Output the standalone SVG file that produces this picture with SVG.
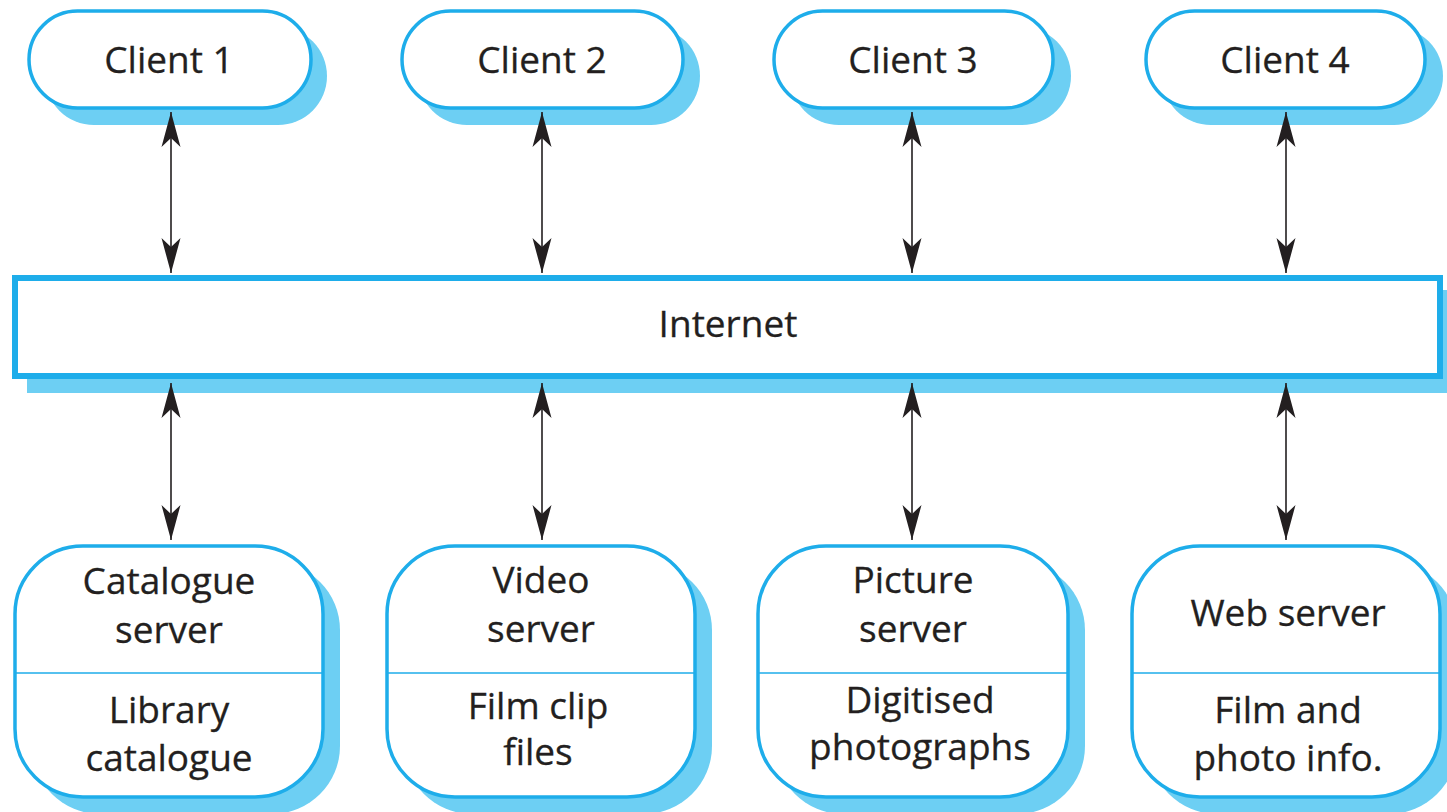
<svg xmlns="http://www.w3.org/2000/svg" width="1447" height="812" viewBox="0 0 1447 812">
<defs>
<style>
.shadow{fill:#6DCFF3;stroke:none}
.node{fill:#fff;stroke:#1EADEA;stroke-width:3.5}
.net{fill:#fff;stroke:#1EADEA;stroke-width:6}
.div{stroke:#1EADEA;stroke-width:1.5}
.lbl{font-family:"Open Sans","Noto Sans",sans-serif;font-size:37px;fill:#231F20;stroke:#231F20;stroke-width:0.3;text-anchor:middle}
.conn{stroke:#231F20;stroke-width:1.6;fill:none;marker-start:url(#ah);marker-end:url(#ah)}
</style>
<marker id="ah" markerUnits="userSpaceOnUse" viewBox="-36 -10 38 20" refX="0" refY="0" markerWidth="38" markerHeight="20" orient="auto-start-reverse">
<path d="M0,0 L-35,-9.5 L-26,0 L-35,9.5 Z" fill="#231F20"/>
</marker>
</defs>
<rect width="1447" height="812" fill="#fff"/>

<g id="client1">
<rect class="shadow" x="45" y="27" width="282" height="98" rx="49"/>
<rect class="node" x="29" y="11" width="282" height="97" rx="48.5"/>
<text class="lbl" x="169" y="73">Client 1</text>
</g>
<g id="client2">
<rect class="shadow" x="418" y="27" width="282" height="98" rx="49"/>
<rect class="node" x="402" y="11" width="281" height="97" rx="48.5"/>
<text class="lbl" x="542" y="73">Client 2</text>
</g>
<g id="client3">
<rect class="shadow" x="790" y="27" width="281" height="98" rx="49"/>
<rect class="node" x="774" y="11" width="279" height="97" rx="48.5"/>
<text class="lbl" x="913" y="73">Client 3</text>
</g>
<g id="client4">
<rect class="shadow" x="1162" y="27" width="281" height="98" rx="49"/>
<rect class="node" x="1146" y="11" width="279" height="97" rx="48.5"/>
<text class="lbl" x="1285" y="73">Client 4</text>
</g>

<g id="internet">
<rect class="shadow" x="27" y="290" width="1430" height="103"/>
<rect class="net" x="15" y="278" width="1425" height="98"/>
<text class="lbl" x="728" y="337">Internet</text>
</g>

<g id="catalogue">
<rect class="shadow" x="32" y="562" width="308" height="252" rx="68"/>
<rect class="node" x="15" y="546" width="308" height="251" rx="68"/>
<line class="div" x1="16" y1="673" x2="322" y2="673"/>
<text class="lbl" x="169" y="594">Catalogue</text>
<text class="lbl" x="169" y="643">server</text>
<text class="lbl" x="169" y="723">Library</text>
<text class="lbl" x="169" y="771">catalogue</text>
</g>

<g id="video">
<rect class="shadow" x="404" y="562" width="308" height="252" rx="68"/>
<rect class="node" x="387" y="546" width="308" height="251" rx="68"/>
<line class="div" x1="388" y1="673" x2="694" y2="673"/>
<text class="lbl" x="541" y="593">Video</text>
<text class="lbl" x="541" y="642">server</text>
<text class="lbl" x="538" y="719">Film clip</text>
<text class="lbl" x="538" y="765">files</text>
</g>

<g id="picture">
<rect class="shadow" x="775" y="562" width="310" height="252" rx="68"/>
<rect class="node" x="758" y="546" width="310" height="251" rx="68"/>
<line class="div" x1="759" y1="673" x2="1067" y2="673"/>
<text class="lbl" x="913" y="593">Picture</text>
<text class="lbl" x="913" y="642">server</text>
<text class="lbl" x="920" y="713">Digitised</text>
<text class="lbl" x="920" y="760">photographs</text>
</g>

<g id="web">
<rect class="shadow" x="1149" y="562" width="308" height="252" rx="68"/>
<rect class="node" x="1132" y="546" width="308" height="251" rx="68"/>
<line class="div" x1="1133" y1="673" x2="1439" y2="673"/>
<text class="lbl" x="1288" y="626">Web server</text>
<text class="lbl" x="1288" y="723">Film and</text>
<text class="lbl" x="1288" y="771">photo info.</text>
</g>

<g id="connectors">
<line class="conn" x1="171" y1="112" x2="171" y2="273"/>
<line class="conn" x1="542" y1="112" x2="542" y2="273"/>
<line class="conn" x1="912" y1="112" x2="912" y2="273"/>
<line class="conn" x1="1286" y1="112" x2="1286" y2="273"/>
<line class="conn" x1="171" y1="383" x2="171" y2="540"/>
<line class="conn" x1="542" y1="383" x2="542" y2="540"/>
<line class="conn" x1="912" y1="383" x2="912" y2="540"/>
<line class="conn" x1="1286" y1="383" x2="1286" y2="540"/>
</g>
</svg>
